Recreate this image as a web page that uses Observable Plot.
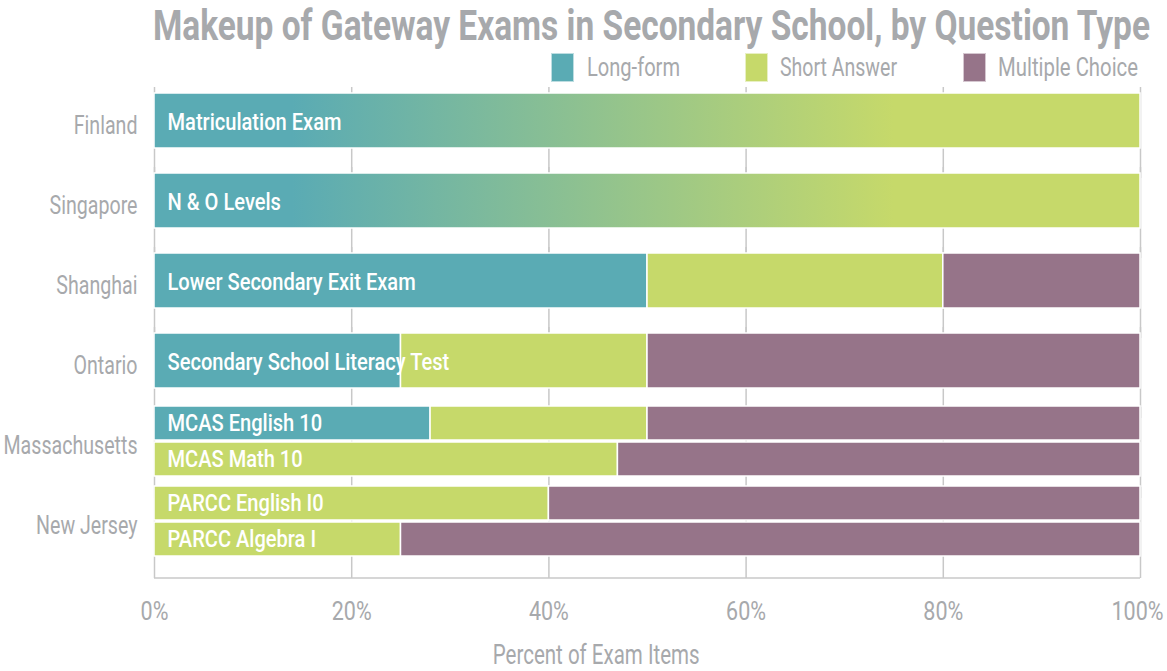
<!DOCTYPE html>
<html><head><meta charset="utf-8">
<script src="https://cdn.jsdelivr.net/npm/d3@7"></script>
<script src="https://cdn.jsdelivr.net/npm/@observablehq/plot@0.6"></script>
<style>
body{margin:0;background:#fff;width:1167px;height:671px;overflow:hidden;font-family:Roboto,"Liberation Sans",sans-serif;color:#a7a9ac;}
#header{position:relative;height:80px;width:1167px;}
#title{position:absolute;left:153px;top:0;font-size:43px;font-weight:bold;white-space:nowrap;transform-origin:0 0;line-height:50px;}
.sw{position:absolute;top:53px;width:23px;height:29px;box-sizing:border-box;}
.lt{position:absolute;top:53px;font-size:26px;line-height:29px;white-space:nowrap;transform-origin:0 50%;}
#chart{height:560px;}
#xlabel{position:relative;width:1192px;text-align:center;font-size:27px;line-height:31px;height:31px;}
#xlabel span{display:inline-block;transform-origin:50% 50%;}
</style></head>
<body>
<div id="header">
  <div id="title" data-w="997">Makeup of Gateway Exams in Secondary School, by Question Type</div>
  <div id="legend"></div>
</div>
<div id="chart"></div>
<div id="xlabel"><span data-w="207">Percent of Exam Items</span></div>
<script>
// ---- data ----
const regions = ["Finland", "Singapore", "Shanghai", "Ontario", "Massachusetts", "New Jersey"];
const exams = ["Matriculation Exam", "N & O Levels", "Lower Secondary Exit Exam", "Secondary School Literacy Test", "MCAS English 10", "MCAS Math 10", "PARCC English I0", "PARCC Algebra I"];
const examRegion = ["Finland", "Singapore", "Shanghai", "Ontario", "Massachusetts", "Massachusetts", "New Jersey", "New Jersey"];
// Finland and Singapore: long-form blended into short answer (split not given)
const blended = [100, 100, 0, 0, 0, 0, 0, 0];
const longForm = [0, 0, 50, 25, 28, 0, 0, 0];
const shortAnswer = [0, 0, 30, 25, 22, 47, 40, 25];
const multipleChoice = [0, 0, 20, 50, 50, 53, 60, 75];
const types = ["Long-form", "Short Answer", "Multiple Choice"];
const typeColors = ["#5aabb4", "#c6d96a", "#967489"];
const xTicks = [0, 20, 40, 60, 80, 100];

// ---- tidy ----
const examRows = exams.map((exam, i) => {
  const region = examRegion[i];
  const sibs = exams.filter((_, j) => examRegion[j] === region);
  return {exam, region, slot: String(sibs.indexOf(exam) + 1), paired: sibs.length > 1, i};
});
const rows = [];
examRows.forEach(r => {
  const vals = [blended[r.i], longForm[r.i], shortAnswer[r.i], multipleChoice[r.i]];
  ["blend", ...types].forEach((t, k) => { if (vals[k] > 0) rows.push({...r, type: t, value: vals[k]}); });
});
const order = ["blend", ...types];

// ---- legend ----
const legend = document.getElementById("legend");
const legPos = [[551, 587, 93], [745, 780, 117], [963, 998, 140]];
types.forEach((t, k) => {
  const sw = document.createElement("div");
  sw.className = "sw"; sw.style.left = legPos[k][0] + "px"; sw.style.background = typeColors[k];
  sw.style.border = "1px solid rgba(255,255,255,0.6)";
  legend.appendChild(sw);
  const lt = document.createElement("div");
  lt.className = "lt"; lt.style.left = legPos[k][1] + "px"; lt.textContent = t; lt.dataset.w = legPos[k][2];
  legend.appendChild(lt);
});

// ---- chart ----
const font = 'Roboto,"Liberation Sans",sans-serif';
const chart = Plot.plot({
  width: 1167, height: 560,
  marginLeft: 154, marginRight: 27, marginTop: 1, marginBottom: 79,
  style: {fontFamily: font, color: "#a7a9ac", background: "white", fontSize: "25px"},
  x: {domain: [0, 100], ticks: xTicks, tickFormat: d => d + "%", tickSize: 0, tickPadding: 41, label: null},
  y: {domain: ["1", "2"], axis: null, paddingInner: 0.06, paddingOuter: 0.12},
  fy: {domain: regions, range: [1, 481], padding: 0, label: null, tickSize: 0, tickPadding: 17},
  color: {domain: order, range: ["url(#lfsa)", ...typeColors]},
  marks: [
    Plot.ruleX(xTicks, {stroke: "#c8c8c8", strokeWidth: 1.5, insetTop: 6, insetBottom: -17}),
    Plot.barX(rows.filter(d => !d.paired), Plot.stackX({x: "value", fy: "region", fill: "type", order, insetTop: 12, insetBottom: 13, stroke: "white", strokeWidth: 1.5})),
    Plot.barX(rows.filter(d => d.paired), Plot.stackX({x: "value", y: "slot", fy: "region", fill: "type", order, stroke: "white", strokeWidth: 1.5})),
    Plot.text(examRows.filter(d => !d.paired), {fy: "region", text: "exam", frameAnchor: "left", dx: 13, dy: 1, textAnchor: "start", fill: "white", fontSize: 24, fontWeight: 500}),
    Plot.text(examRows.filter(d => d.paired), {fy: "region", y: "slot", text: "exam", frameAnchor: "left", dx: 13, textAnchor: "start", fill: "white", fontSize: 24, fontWeight: 500})
  ]
});
document.getElementById("chart").appendChild(chart);

// gradient for blended bars + baseline
const svg = d3.select(chart);
const defs = svg.insert("defs", ":first-child");
const grad = defs.append("linearGradient").attr("id", "lfsa");
[[0, typeColors[0]], [0.14, typeColors[0]], [0.75, typeColors[1]], [1, typeColors[1]]].forEach(([o, c]) =>
  grad.append("stop").attr("offset", o).attr("stop-color", c));
const xs = chart.scale("x"), fys = chart.scale("fy");
svg.append("line")
  .attr("x1", xs.apply(0)).attr("x2", xs.apply(100))
  .attr("y1", fys.range[1] + 17).attr("y2", fys.range[1] + 17)
  .attr("stroke", "#c8c8c8").attr("stroke-width", 1.5);

// condense SVG texts (narrow gothic look) with textLength
function addOffset(n, attr, px) {
  const fs = parseFloat(getComputedStyle(n).fontSize);
  const s = n.getAttribute(attr);
  const v = !s ? 0 : /em$/.test(s) ? parseFloat(s) * fs : parseFloat(s);
  n.setAttribute(attr, v + px);
}
function condense(sel, refText, refWidth, shiftY) {
  const nodes = sel.nodes();
  const ref = nodes.find(n => n.textContent === refText);
  if (!ref) return;
  const k = refWidth / ref.getComputedTextLength();
  nodes.forEach(n => {
    const w = n.getComputedTextLength();
    n.setAttribute("textLength", w * k);
    n.setAttribute("lengthAdjust", "spacingAndGlyphs");
    if (shiftY) addOffset(n, "dy", shiftY);
  });
}
const allText = svg.selectAll("text");
condense(allText.filter(function() { return this.getAttribute("fill") === "white" || this.closest("[fill=white]"); }), "Matriculation Exam", 174);
condense(allText.filter(function() { return /%$/.test(this.textContent); }), "20%", 40);
condense(allText.filter(function() { return regions.includes(this.textContent); }), "Massachusetts", 134, 4);
allText.filter(function() { return this.textContent === "100%"; }).each(function() { addOffset(this, "dx", -3); });

// fit condensed HTML text widths
document.querySelectorAll("[data-w]").forEach(el => {
  const w = el.getBoundingClientRect().width;
  const k = (+el.dataset.w) / w;
  el.style.transform = `scaleX(${k})`;
});
</script>
</body></html>
